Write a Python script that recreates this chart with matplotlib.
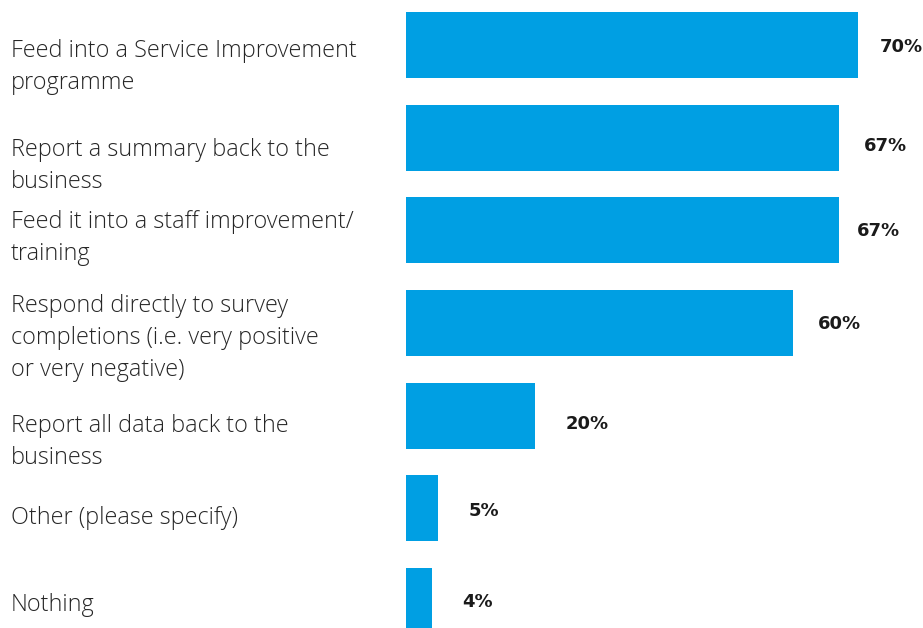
import matplotlib
matplotlib.use("Agg")
import matplotlib.pyplot as plt
from matplotlib import transforms

# ── data ──────────────────────────────────────────────────────────────────────
CATEGORIES = [
    "Feed into a Service Improvement\nprogramme",
    "Report a summary back to the\nbusiness",
    "Feed it into a staff improvement/\ntraining",
    "Respond directly to survey\ncompletions (i.e. very positive\nor very negative)",
    "Report all data back to the\nbusiness",
    "Other (please specify)",
    "Nothing",
]
VALUES = [70, 67, 67, 60, 20, 5, 4]

# ── layout ────────────────────────────────────────────────────────────────────
BLUE = "#009FE3"
TEXT = "#262626"
W, H, DPI = 923, 628, 100
PX_PER_PCT = 6.457
STEP = 92.67          # px between bar centres
FIRST = 45            # px from top to first bar centre
label_dy = [22, 28, 8, 15, 26, 10, 4]   # px shift of category label below bar centre
value_dx = [22, 25, 18, 24, 30, 30, 30]  # px gap from bar end to value text
value_dy = [2, 8, 1, 1, 8, 3, 1]

plt.rcParams["font.family"] = ["Open Sans", "DejaVu Sans"]

fig = plt.figure(figsize=(W / DPI, H / DPI), dpi=DPI, facecolor="white")
left = 406
ax = fig.add_axes([left / W, 0, (W - left) / W, 1])
ax.set_xlim(0, (W - left) / PX_PER_PCT)
ax.set_ylim((H - FIRST) / STEP, -FIRST / STEP)
ax.axis("off")

ys = list(range(len(VALUES)))
ax.barh(ys, VALUES, height=66 / STEP, color=BLUE, zorder=2)

for y, v, dx, dy in zip(ys, VALUES, value_dx, value_dy):
    off = transforms.offset_copy(ax.transData, fig=fig, x=dx * 72 / DPI,
                                 y=-dy * 72 / DPI, units="points")
    ax.text(v, y, f"{v}%", transform=off, ha="left", va="center",
            fontsize=13, fontweight="bold", color="#1a1a1a",
            family=["DejaVu Sans"])

for y, lab, dy in zip(ys, CATEGORIES, label_dy):
    off = transforms.offset_copy(ax.transData, fig=fig, x=0,
                                 y=-dy * 72 / DPI, units="points")
    t = transforms.blended_transform_factory(fig.transFigure, off)
    ax.text(11 / W, y, lab, transform=t, ha="left", va="center",
            fontsize=16.8, fontweight="light", color=TEXT, linespacing=1.45)

fig.savefig("out.png", dpi=DPI, facecolor="white")
